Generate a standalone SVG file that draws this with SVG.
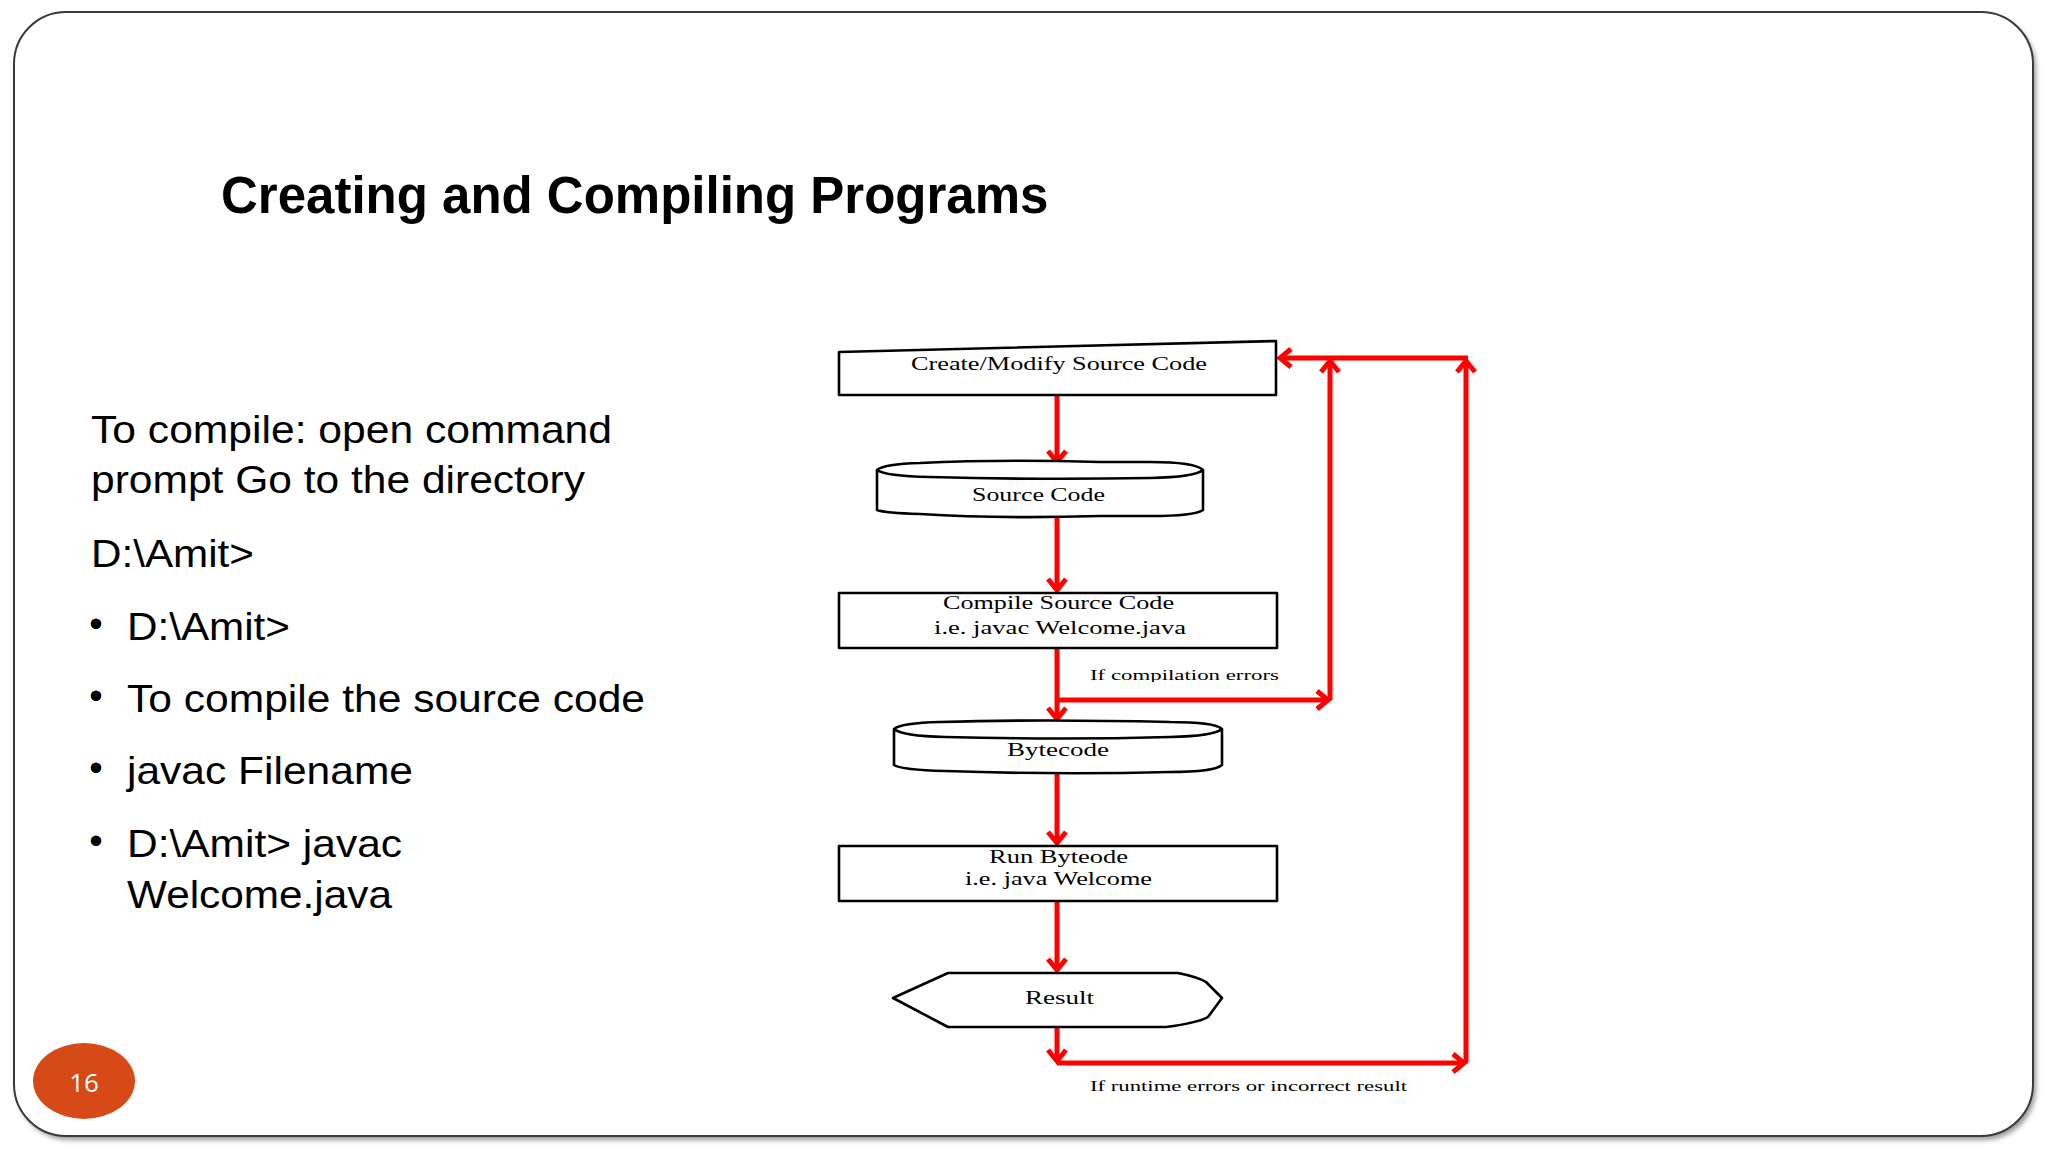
<svg xmlns="http://www.w3.org/2000/svg" width="2048" height="1152" viewBox="0 0 2048 1152">
<style>
.body{font-family:"Liberation Sans",Arial,sans-serif;font-size:38.5px;fill:#000}
.title{font-family:"Liberation Sans",Arial,sans-serif;font-size:51px;font-weight:bold;fill:#000}
.nt{font-family:"Liberation Serif","Times New Roman",serif;font-size:19.5px;fill:#000}
.lbl{font-family:"Liberation Serif","Times New Roman",serif;font-size:15.5px;fill:#000}
.shape{fill:#fff;stroke:#000;stroke-width:2.6;stroke-linejoin:round}
.conn{fill:none;stroke:#ff0000;stroke-width:5}
</style>
<defs>
<filter id="sh" x="-5%" y="-5%" width="110%" height="110%"><feGaussianBlur stdDeviation="2.5"/></filter>
<marker id="ah" markerUnits="userSpaceOnUse" viewBox="-14 -12 18 24" markerWidth="18" markerHeight="24" refX="0" refY="0" orient="auto" overflow="visible">
<path d="M-11,-9 L0,0 L-11,9" fill="none" stroke="#ff0000" stroke-width="5" stroke-linejoin="miter"/>
</marker>
<clipPath id="clipc"><rect x="1080" y="660" width="220" height="22"/></clipPath>
</defs>
<rect width="2048" height="1152" fill="#fff"/>
<g id="frame">
<rect x="17" y="16" width="2019" height="1124" rx="52" fill="#9a9a9a" filter="url(#sh)"/>
<rect x="14" y="12" width="2019" height="1124" rx="52" fill="#fff" stroke="#3a3a3a" stroke-width="2"/>
</g>
<text class="title" x="221" y="213">Creating and Compiling Programs</text>
<g id="left-text">
<text class="body" x="91" y="443" textLength="521" lengthAdjust="spacingAndGlyphs">To compile: open command</text>
<text class="body" x="91" y="493" textLength="494" lengthAdjust="spacingAndGlyphs">prompt Go to the directory</text>
<text class="body" x="91" y="567" textLength="163" lengthAdjust="spacingAndGlyphs">D:\Amit&gt;</text>
<text class="body" x="96" y="637" text-anchor="middle">•</text>
<text class="body" x="127" y="640" textLength="163" lengthAdjust="spacingAndGlyphs">D:\Amit&gt;</text>
<text class="body" x="96" y="709" text-anchor="middle">•</text>
<text class="body" x="127" y="712" textLength="518" lengthAdjust="spacingAndGlyphs">To compile the source code</text>
<text class="body" x="96" y="781" text-anchor="middle">•</text>
<text class="body" x="127" y="784" textLength="286" lengthAdjust="spacingAndGlyphs">javac Filename</text>
<text class="body" x="96" y="854" text-anchor="middle">•</text>
<text class="body" x="127" y="857" textLength="275" lengthAdjust="spacingAndGlyphs">D:\Amit&gt; javac</text>
<text class="body" x="127" y="908" textLength="265" lengthAdjust="spacingAndGlyphs">Welcome.java</text>
</g>
<g id="page-number">
<ellipse cx="84" cy="1081" rx="51" ry="38" fill="#d64a18"/>
<text x="84" y="1092" text-anchor="middle" font-family="'Open Sans','Liberation Sans',sans-serif" font-size="26" fill="#fff">16</text>
</g>
<g id="connectors">
<path class="conn" d="M1057,395 V462" marker-end="url(#ah)"/>
<path class="conn" d="M1057,516 V590" marker-end="url(#ah)"/>
<path class="conn" d="M1057,648 V719" marker-end="url(#ah)"/>
<path class="conn" d="M1057,700 H1328" marker-end="url(#ah)"/>
<path class="conn" d="M1330,700 V361" marker-end="url(#ah)"/>
<path class="conn" d="M1057,772 V843" marker-end="url(#ah)"/>
<path class="conn" d="M1057,901 V970" marker-end="url(#ah)"/>
<path class="conn" d="M1057,1027 V1061" marker-end="url(#ah)"/>
<path class="conn" d="M1057,1063 H1464" marker-end="url(#ah)"/>
<path class="conn" d="M1466,1063 V361" marker-end="url(#ah)"/>
<path class="conn" d="M1468,358 H1280" marker-end="url(#ah)"/>
</g>
<g id="create">
<path class="shape" d="M839,352 L1276,341 L1276,395 L839,395 Z"/>
<text class="nt" x="911" y="370" textLength="296" lengthAdjust="spacingAndGlyphs">Create/Modify Source Code</text>
</g>
<g id="source-code">
<path class="shape" d="M877,470 Q884,464 920,463 Q1000,459 1100,462 L1150,462 Q1195,462 1203,470 L1203,510 Q1195,516 1150,516 L1100,516 Q1000,519 920,514 Q885,513 877,510 Z"/>
<path class="shape" fill="none" d="M877,470 Q885,476 930,477 Q1040,480 1150,478 Q1195,477 1203,470"/>
<text class="nt" x="972" y="501" textLength="133" lengthAdjust="spacingAndGlyphs">Source Code</text>
</g>
<g id="compile">
<rect class="shape" x="839" y="593" width="438" height="55"/>
<text class="nt" x="943" y="609" textLength="231" lengthAdjust="spacingAndGlyphs">Compile Source Code</text>
<text class="nt" x="934" y="634" textLength="252" lengthAdjust="spacingAndGlyphs">i.e. javac Welcome.java</text>
</g>
<text class="lbl" x="1090" y="680" textLength="189" lengthAdjust="spacingAndGlyphs" clip-path="url(#clipc)">If compilation errors</text>
<g id="bytecode">
<path class="shape" d="M894,729 Q901,723 940,722 Q1040,719 1170,722 Q1214,722 1222,729 L1222,765 Q1214,772 1170,772 Q1060,775 945,771 Q902,770 894,765 Z"/>
<path class="shape" fill="none" d="M894,729 Q902,736 945,737 Q1060,740 1170,737 Q1214,736 1222,729"/>
<text class="nt" x="1007" y="756" textLength="102" lengthAdjust="spacingAndGlyphs">Bytecode</text>
</g>
<g id="run">
<rect class="shape" x="839" y="846" width="438" height="55"/>
<text class="nt" x="989" y="863" textLength="139" lengthAdjust="spacingAndGlyphs">Run Byteode</text>
<text class="nt" x="965" y="885" textLength="187" lengthAdjust="spacingAndGlyphs">i.e. java Welcome</text>
</g>
<g id="result">
<path class="shape" d="M893,998 L948,973 L1178,973 Q1198,977 1206,982 L1222,998 L1208,1017 Q1198,1023 1166,1027 L948,1027 Z"/>
<text class="nt" x="1025" y="1004" textLength="69" lengthAdjust="spacingAndGlyphs">Result</text>
</g>
<text class="lbl" x="1090" y="1091" textLength="317" lengthAdjust="spacingAndGlyphs">If runtime errors or incorrect result</text>
</svg>
